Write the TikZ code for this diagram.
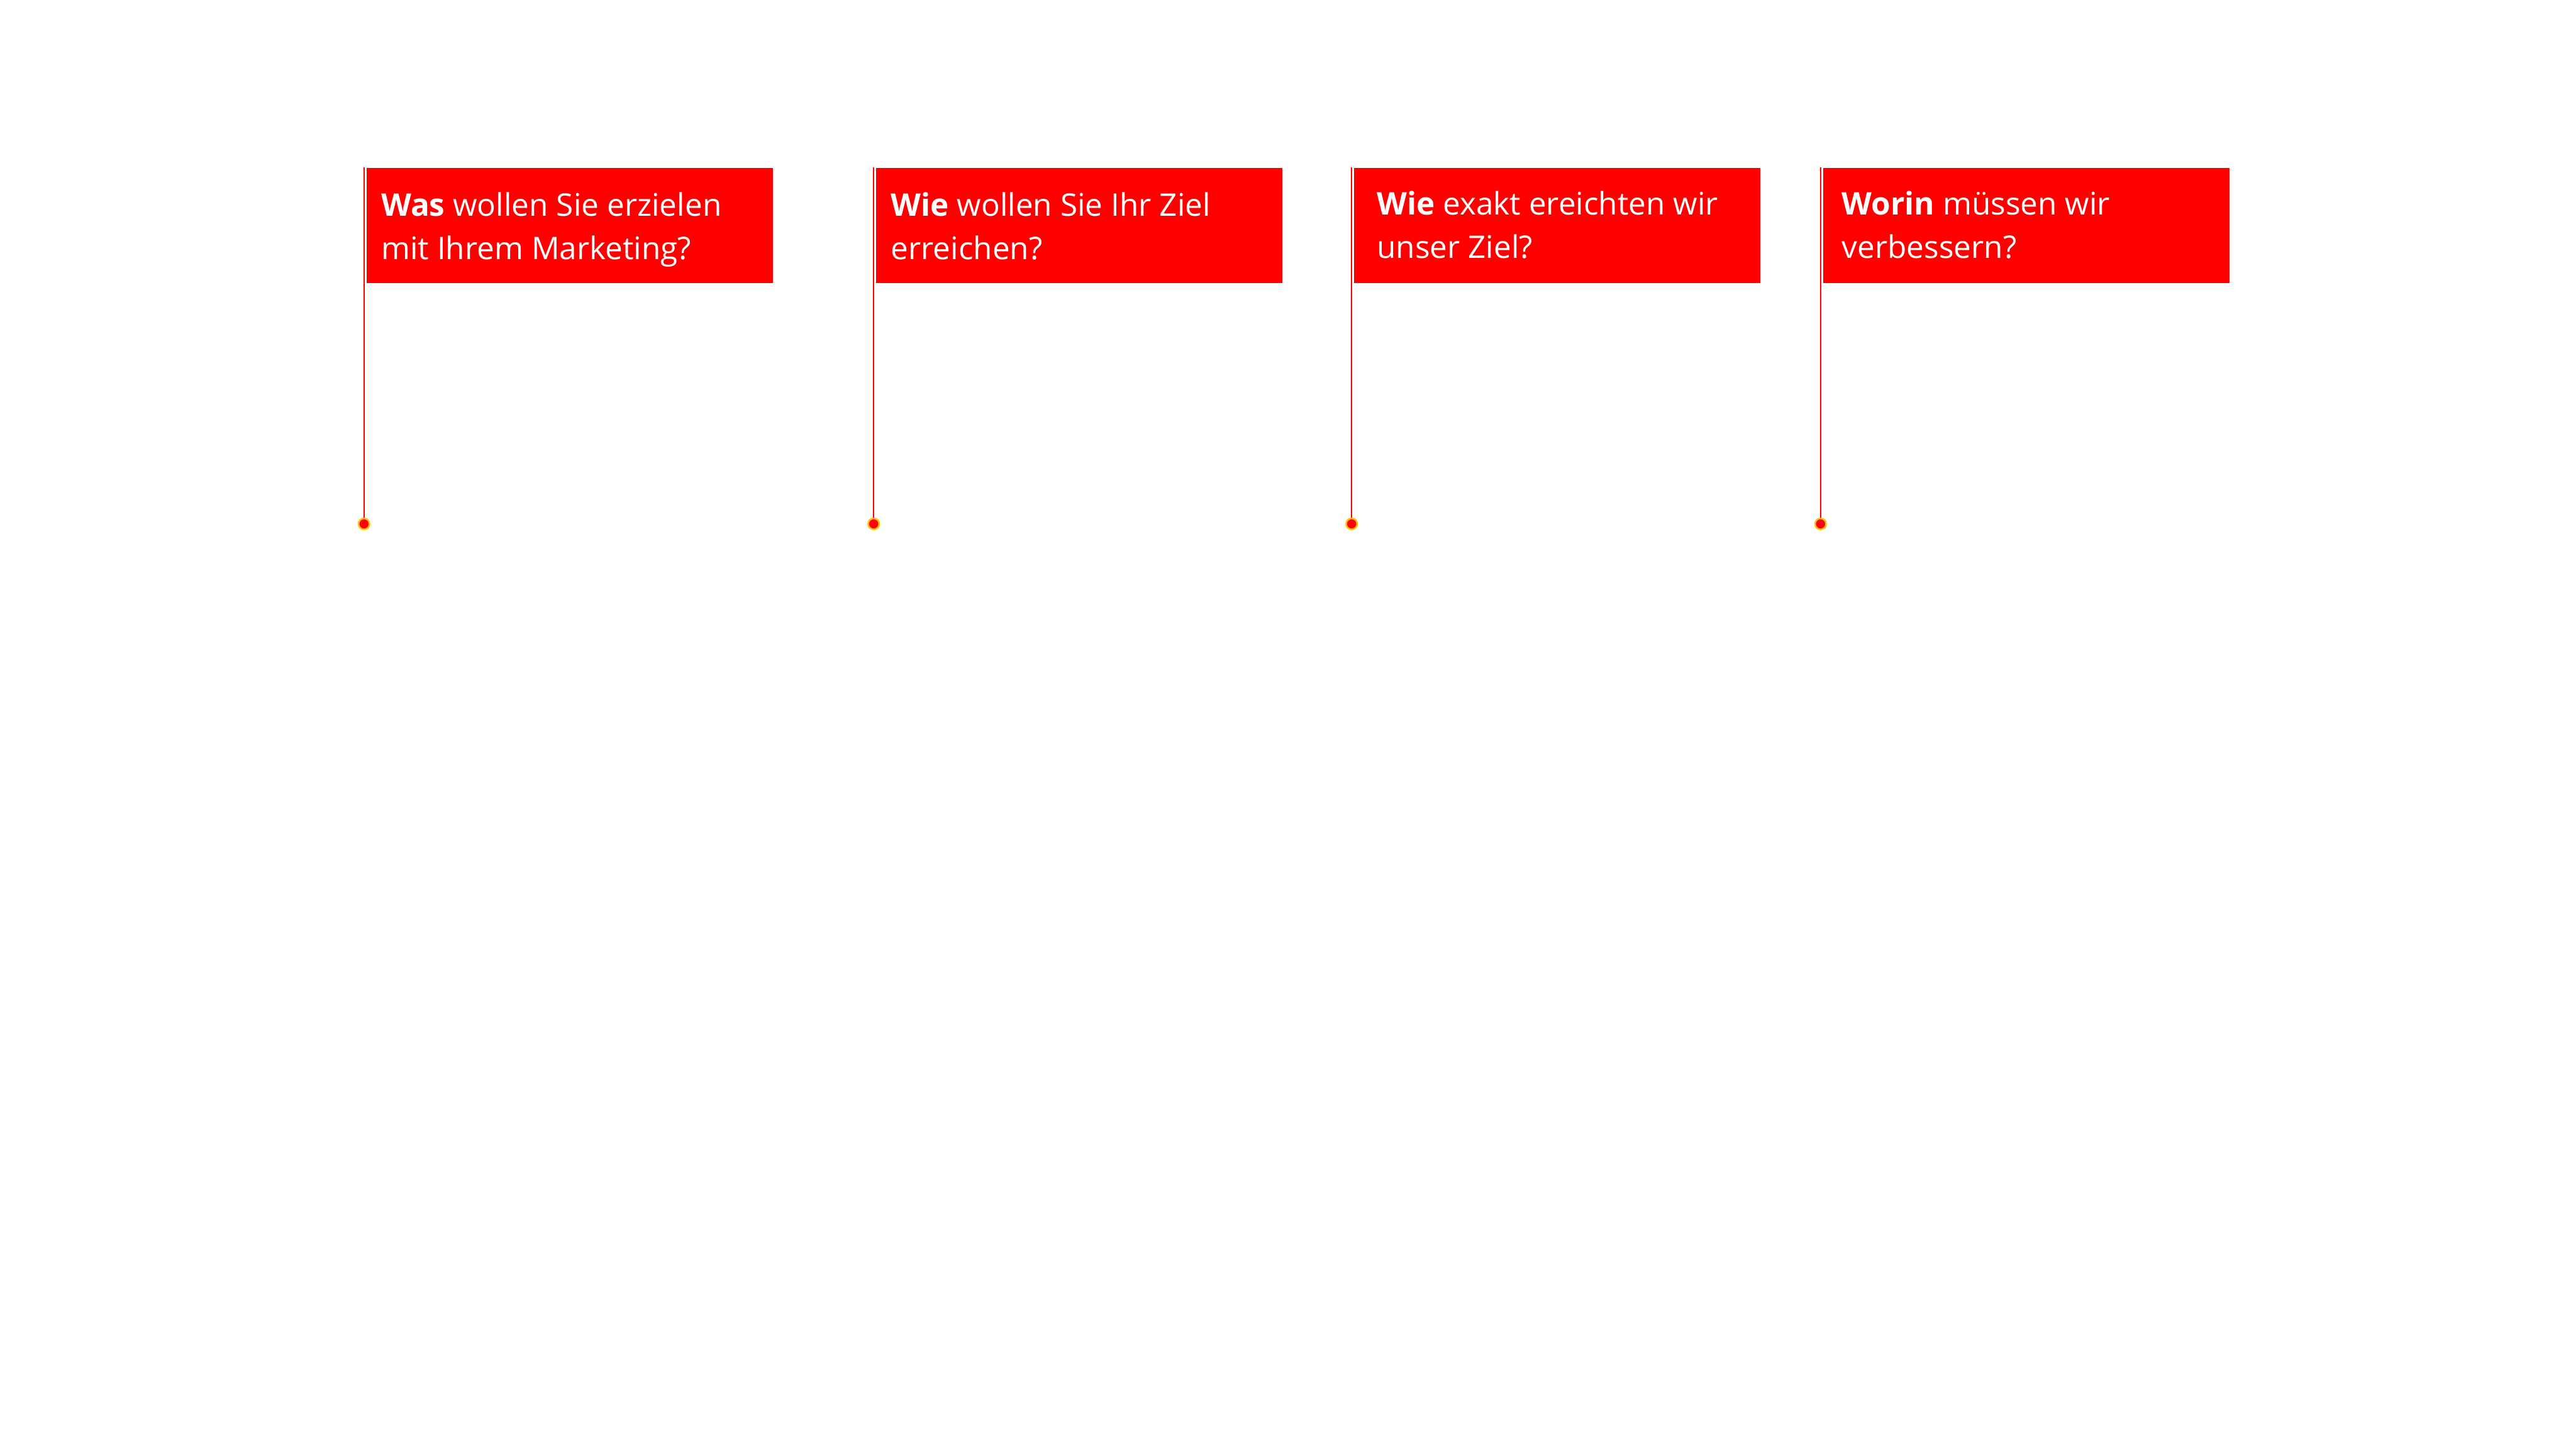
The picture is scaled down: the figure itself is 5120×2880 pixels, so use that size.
\documentclass[tikz,border=0pt]{standalone}
\usepackage{fontspec}
\setmainfont{Open Sans}
\usepackage{xcolor}
\usepackage{tikz}
\usetikzlibrary{positioning}
\definecolor{flagred}{HTML}{FF0000}
\definecolor{ring}{HTML}{FFC000}
\tikzset{
  flagbox/.style ={fill=flagred, inner sep=0pt, anchor=north west, minimum width=8.07cm, minimum height=2.29cm},
  flagtext/.style={text=white, inner sep=0pt, anchor=base west, align=left, font=\fontsize{17.6}{24.4}\selectfont},
  pole/.style    ={draw=flagred, line width=0.03cm},
  pin/.style     ={circle, fill=flagred, draw=ring, line width=0.03cm, minimum size=0.216cm, inner sep=0pt},
}
\begin{document}
\begin{tikzpicture}[x=0.01cm, y=-0.01cm]
  \useasboundingbox (0,0) rectangle (5120,2880);
  % flag 1
  \node[flagbox] (F1) at (728,333) {};
  \node[flagtext] (T1) at (757,515) {\textbf{Was} wollen Sie erzielen\\mit Ihrem Marketing?};
  \coordinate (P1) at (723.5,333);
  \node[pin] (D1) at (723.5,1041) {};
  % flag 2
  \node[flagbox] (F2) at (1741,333) {};
  \node[flagtext] (T2) at (1770,515) {\textbf{Wie} wollen Sie Ihr Ziel\\erreichen?};
  \coordinate (P2) at (1736.5,333);
  \node[pin] (D2) at (1736.5,1041) {};
  % flag 3
  \node[flagbox] (F3) at (2691,333) {};
  \node[flagtext] (T3) at (2736,513) {\textbf{Wie} exakt ereichten wir\\unser Ziel?};
  \coordinate (P3) at (2686.5,333);
  \node[pin] (D3) at (2686.5,1041) {};
  % flag 4
  \node[flagbox] (F4) at (3623,333) {};
  \node[flagtext] (T4) at (3660,513) {\textbf{Worin} müssen wir\\verbessern?};
  \coordinate (P4) at (3618.5,333);
  \node[pin] (D4) at (3618.5,1041) {};
  % poles
  \draw[pole] (P1) -- (D1.center);
  \draw[pole] (P2) -- (D2.center);
  \draw[pole] (P3) -- (D3.center);
  \draw[pole] (P4) -- (D4.center);
  \node[pin] at (D1) {};
  \node[pin] at (D2) {};
  \node[pin] at (D3) {};
  \node[pin] at (D4) {};
\end{tikzpicture}
\end{document}
